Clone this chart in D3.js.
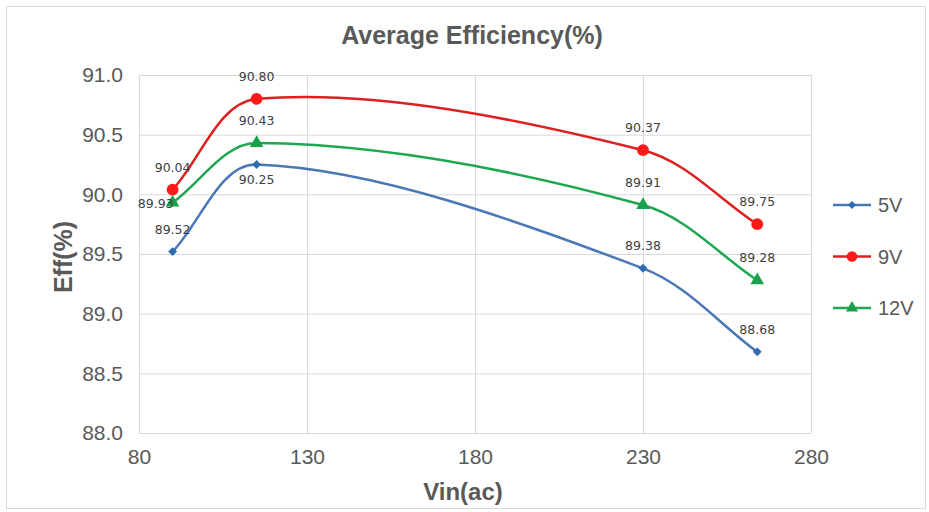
<!DOCTYPE html>
<html>
<head>
<meta charset="utf-8">
<script src="https://cdn.jsdelivr.net/npm/d3@7"></script>
<style>
  body { margin: 0; background: #fff; }
  svg { display: block; font-family: "Liberation Sans", Arial, sans-serif; }
</style>
</head>
<body>
<div id="chart"></div>
<script>
// data
const vin = [90, 115, 230, 264]
const eff5V = [89.52, 90.25, 89.38, 88.68]
const eff9V = [90.04, 90.80, 90.37, 89.75]
const eff12V = [89.93, 90.43, 89.91, 89.28]
const seriesNames = ["5V", "9V", "12V"]
const xTicks = [80, 130, 180, 230, 280]
const yTicks = [88.0, 88.5, 89.0, 89.5, 90.0, 90.5, 91.0]

const W = 929
const H = 512
const margin = { top: 75, right: 118, bottom: 79, left: 139 }
const innerW = W - margin.left - margin.right
const innerH = H - margin.top - margin.bottom

const svg = d3.select("#chart").append("svg").attr("width", W).attr("height", H)

// outer chart border
svg.append("rect")
  .attr("x", 6.5).attr("y", 6.5)
  .attr("width", W - 10).attr("height", H - 10)
  .attr("fill", "#fff").attr("stroke", "#d9d9d9")

const g = svg.append("g").attr("transform", `translate(${margin.left},${margin.top})`)

const x = d3.scaleLinear().domain([80, 280]).range([0, innerW])
const y = d3.scaleLinear().domain([88, 91]).range([innerH, 0])

// gridlines
g.append("g")
  .attr("transform", `translate(0,${innerH})`)
  .call(d3.axisBottom(x).tickValues(xTicks).tickSize(-innerH).tickFormat(""))
  .call(a => a.select(".domain").remove())
  .call(a => a.selectAll("line").attr("stroke", "#d9d9d9"))
g.append("g")
  .call(d3.axisLeft(y).tickValues(yTicks).tickSize(-innerW).tickFormat(""))
  .call(a => a.select(".domain").remove())
  .call(a => a.selectAll("line").attr("stroke", "#d9d9d9"))

// tick labels
const yAxis = g.append("g")
  .call(d3.axisLeft(y).tickValues(yTicks).tickSize(0).tickPadding(16).tickFormat(d3.format(".1f")))
yAxis.select(".domain").remove()
yAxis.selectAll("text").attr("font-size", 21).attr("fill", "#595959")
  .attr("font-family", "Liberation Sans, Arial, sans-serif")

const xAxis = g.append("g")
  .attr("transform", `translate(0,${innerH})`)
  .call(d3.axisBottom(x).tickValues(xTicks).tickSize(0).tickPadding(16))
xAxis.select(".domain").remove()
xAxis.selectAll("text").attr("font-size", 21).attr("fill", "#595959")
  .attr("font-family", "Liberation Sans, Arial, sans-serif")

// titles
svg.append("text")
  .attr("x", 472).attr("y", 44)
  .attr("text-anchor", "middle")
  .attr("font-size", 25).attr("font-weight", "bold").attr("fill", "#595959")
  .text("Average Efficiency(%)")

svg.append("text")
  .attr("x", 463).attr("y", 500)
  .attr("text-anchor", "middle")
  .attr("font-size", 24).attr("font-weight", "bold").attr("fill", "#595959")
  .text("Vin(ac)")

svg.append("text")
  .attr("transform", "translate(72,257) rotate(-90)")
  .attr("text-anchor", "middle")
  .attr("font-size", 25).attr("font-weight", "bold").attr("fill", "#595959")
  .text("Eff(%)")

// series
const colors = { "5V": "#4a78b5", "9V": "#dd2020", "12V": "#1fa651" }
const markerColors = { "5V": "#2e6db4", "9V": "#ff1a1a", "12V": "#18a14a" }
const symbols = { "5V": d3.symbolSquare, "9V": d3.symbolCircle, "12V": d3.symbolTriangle }
const symbolSize = { "5V": 40, "9V": 110, "12V": 80 }
const symbolRotate = { "5V": 45, "9V": 0, "12V": 0 }
const allValues = { "5V": eff5V, "9V": eff9V, "12V": eff12V }
// label placement: "above", "below", "left"
const labelPos = {
  "5V": ["above", "below", "above", "above"],
  "9V": ["above", "above", "above", "above"],
  "12V": ["left", "above", "above", "above"]
}

// spreadsheet-style smoothed line: tangent from the neighbours,
// arm length scaled by the length of each segment
function smoothPath(pts) {
  const p = pts.map(d => [x(d[0]), y(d[1])])
  const t = 1 / 3
  const n = p.length
  const dist = (a, b) => Math.hypot(b[0] - a[0], b[1] - a[1])
  const ctrlOut = [], ctrlIn = []
  for (let i = 0; i < n; i++) {
    if (i === 0) {
      ctrlOut[i] = [p[0][0] + (p[1][0] - p[0][0]) * t, p[0][1] + (p[1][1] - p[0][1]) * t]
    } else if (i === n - 1) {
      ctrlIn[i] = [p[i][0] - (p[i][0] - p[i - 1][0]) * t, p[i][1] - (p[i][1] - p[i - 1][1]) * t]
    } else {
      const dx = p[i + 1][0] - p[i - 1][0]
      const dy = p[i + 1][1] - p[i - 1][1]
      const a = dist(p[i - 1], p[i])
      const b = dist(p[i], p[i + 1])
      const fa = a / (a + b) * t
      const fb = b / (a + b) * t
      ctrlIn[i] = [p[i][0] - dx * fa, p[i][1] - dy * fa]
      ctrlOut[i] = [p[i][0] + dx * fb, p[i][1] + dy * fb]
    }
  }
  const path = d3.path()
  path.moveTo(p[0][0], p[0][1])
  for (let i = 0; i < n - 1; i++) {
    path.bezierCurveTo(ctrlOut[i][0], ctrlOut[i][1], ctrlIn[i + 1][0], ctrlIn[i + 1][1], p[i + 1][0], p[i + 1][1])
  }
  return path.toString()
}

seriesNames.forEach(name => {
  const pts = vin.map((v, i) => [v, allValues[name][i]])

  g.append("path")
    .datum(pts)
    .attr("d", smoothPath)
    .attr("fill", "none")
    .attr("stroke", colors[name])
    .attr("stroke-width", 2.5)

  g.selectAll(null)
    .data(pts)
    .join("path")
    .attr("transform", d => `translate(${x(d[0])},${y(d[1])}) rotate(${symbolRotate[name]})`)
    .attr("d", d3.symbol().type(symbols[name]).size(symbolSize[name]))
    .attr("fill", markerColors[name])

  g.selectAll(null)
    .data(pts)
    .join("text")
    .attr("font-family", "DejaVu Sans, sans-serif")
    .attr("font-size", 12.5)
    .attr("fill", "#404040")
    .attr("text-anchor", (d, i) => labelPos[name][i] === "left" ? "end" : "middle")
    .attr("x", (d, i) => labelPos[name][i] === "left" ? x(d[0]) + 1 : x(d[0]))
    .attr("y", (d, i) => {
      const p = labelPos[name][i]
      if (p === "below") return y(d[1]) + 19
      if (p === "left") return y(d[1]) + 5
      return y(d[1]) - 18
    })
    .text(d => d[1].toFixed(2))
})

// legend
const legend = svg.append("g").attr("transform", "translate(833,205)")
seriesNames.forEach((name, i) => {
  const row = legend.append("g").attr("transform", `translate(0,${i * 51.5})`)
  row.append("line")
    .attr("x1", 0).attr("x2", 38)
    .attr("stroke", colors[name]).attr("stroke-width", 2.5)
  row.append("path")
    .attr("transform", `translate(19,0) rotate(${symbolRotate[name]})`)
    .attr("d", d3.symbol().type(symbols[name]).size(symbolSize[name] * 0.8))
    .attr("fill", markerColors[name])
  row.append("text")
    .attr("x", 45).attr("y", 7)
    .attr("font-size", 20).attr("fill", "#595959")
    .text(name)
})
</script>
</body>
</html>
